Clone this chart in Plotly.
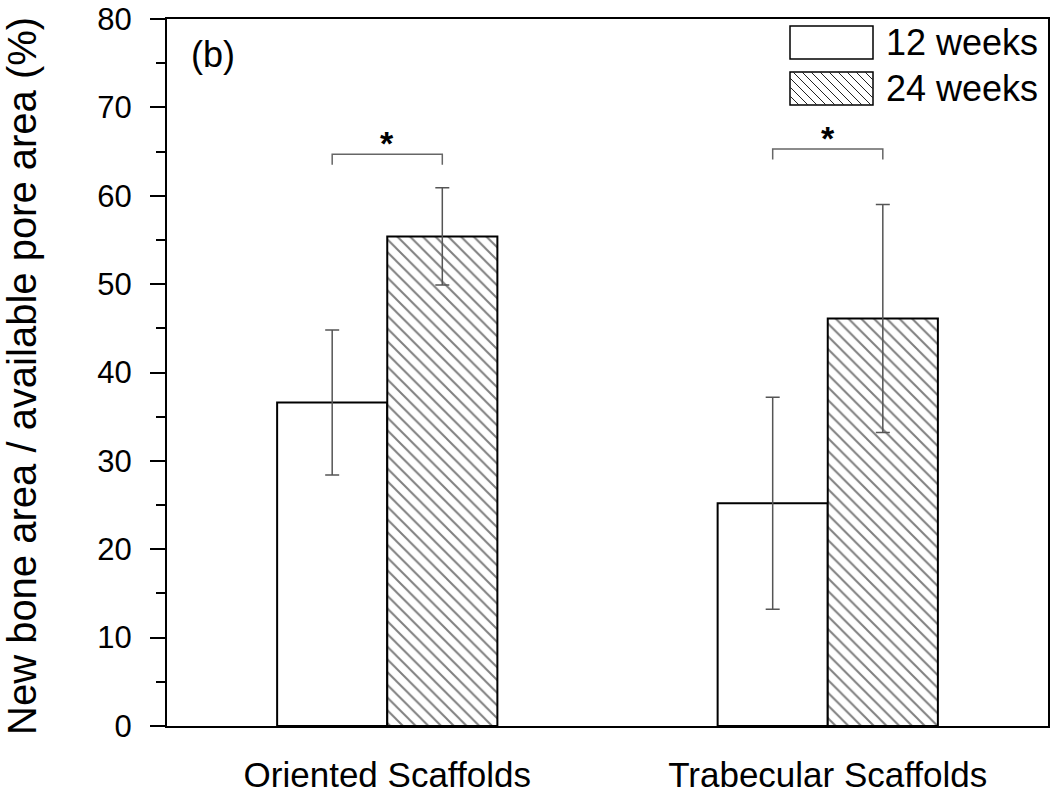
import plotly.graph_objects as go

# ---- data ----
categories = ["Oriented Scaffolds", "Trabecular Scaffolds"]
weeks12 = [36.6, 25.2]
weeks12_err = [8.2, 12.0]
weeks24 = [55.4, 46.1]
weeks24_err = [5.5, 12.9]
series_names = ["12 weeks", "24 weeks"]
sig_heights = [64.7, 65.3]
sig_drop = 1.2
sig_labels = ["*", "*"]
y_ticks = list(range(0, 81, 10))

FONT = "Arial, Liberation Sans, sans-serif"

# plot area in pixels
L, R, T, B = 167, 1048, 19, 726
W, H = 1050, 794
PW, PH = R - L, B - T


def px_to_paper(px, py):
    return (px - L) / PW, (B - py) / PH


xs = [0, 1]
fig = go.Figure()
fig.add_trace(go.Bar(
    x=xs, y=weeks12, name=series_names[0],
    marker=dict(color="white", line=dict(color="black", width=2)),
    error_y=dict(type="data", array=weeks12_err, color="#555555", thickness=1.5, width=7),
    showlegend=False,
))
fig.add_trace(go.Bar(
    x=xs, y=weeks24, name=series_names[1],
    marker=dict(color="white", line=dict(color="black", width=2),
                pattern=dict(shape="\\", size=9, solidity=0.22, fgcolor="black", bgcolor="white")),
    error_y=dict(type="data", array=weeks24_err, color="#555555", thickness=1.5, width=7),
    showlegend=False,
))

shapes = []
annotations = []
# significance brackets between bar centres
for i, (h, lab) in enumerate(zip(sig_heights, sig_labels)):
    xa, xb = xs[i] - 0.125, xs[i] + 0.125
    shapes.append(dict(type="path", xref="x", yref="y",
                       path=f"M {xa},{h - sig_drop} L {xa},{h} L {xb},{h} L {xb},{h - sig_drop}",
                       line=dict(color="#666666", width=1.5)))
    annotations.append(dict(x=xs[i], y=h, xref="x", yref="y", text=f"<b>{lab}</b>",
                            showarrow=False, yanchor="bottom", font=dict(family=FONT, size=34, color="black"),
                            yshift=-10))

# custom legend
sw_x0, sw_x1 = 790, 873
sw_rows = [(26, 59), (72, 105)]
for k, (y0, y1) in enumerate(sw_rows):
    ax0, ay0 = px_to_paper(sw_x0, y1)
    ax1, ay1 = px_to_paper(sw_x1, y0)
    shapes.append(dict(type="rect", xref="paper", yref="paper", x0=ax0, y0=ay0, x1=ax1, y1=ay1,
                       line=dict(color="black", width=1.5), fillcolor="white", layer="above"))
    if k == 1:
        segs = []
        s = 9
        c = sw_x0 - y1
        while c <= sw_x1 - y0:
            xa = max(sw_x0, c + y0)
            xb = min(sw_x1, c + y1)
            if xb > xa:
                p0 = px_to_paper(xa, xa - c)
                p1 = px_to_paper(xb, xb - c)
                segs.append(f"M {p0[0]:.5f},{p0[1]:.5f} L {p1[0]:.5f},{p1[1]:.5f}")
            c += s
        shapes.append(dict(type="path", xref="paper", yref="paper", path=" ".join(segs),
                           line=dict(color="#222222", width=1), layer="above"))
    tx, ty = px_to_paper(884, (y0 + y1) / 2)
    annotations.append(dict(x=tx, y=ty, xref="paper", yref="paper", text=series_names[k],
                            showarrow=False, xanchor="left", yanchor="middle",
                            font=dict(family=FONT, size=36, color="black")))

# panel label
bx, by = px_to_paper(189, 54)
annotations.append(dict(x=bx, y=by, xref="paper", yref="paper", text="(b)", showarrow=False,
                        xanchor="left", yanchor="middle", font=dict(family=FONT, size=36, color="black")))

# y-axis title
tx, ty = px_to_paper(22, 376)
annotations.append(dict(x=tx, y=ty, xref="paper", yref="paper",
                        text="New bone area / available pore area (%)", textangle=-90,
                        showarrow=False, xanchor="center", yanchor="middle",
                        font=dict(family=FONT, size=40, color="black")))

fig.update_layout(
    width=W, height=H,
    margin=dict(l=L, r=W - R, t=T, b=H - B, pad=0, autoexpand=False),
    plot_bgcolor="white", paper_bgcolor="white",
    barmode="group", bargap=0.5, bargroupgap=0,
    shapes=shapes, annotations=annotations,
    font=dict(family=FONT, color="black"),
)
fig.update_xaxes(range=[-0.5, 1.5], tickvals=xs, ticktext=categories, ticks="",
                 showline=True, linewidth=2, linecolor="black", mirror=True, automargin=False,
                 showgrid=False, zeroline=False, tickfont=dict(family=FONT, size=35, color="black"),
                 ticklabelstandoff=17, ticklabeloverflow="allow")
fig.update_yaxes(range=[0, 80], tickvals=y_ticks, ticks="outside", ticklen=15, tickwidth=2,
                 tickcolor="black", showline=True, linewidth=2, linecolor="black", mirror=True,
                 automargin=False, ticklabeloverflow="allow",
                 showgrid=False, zeroline=False, tickfont=dict(family=FONT, size=31, color="black"),
                 ticklabelstandoff=12,
                 minor=dict(dtick=5, tick0=0, ticks="outside", ticklen=9, tickwidth=2,
                            tickcolor="black", showgrid=False))

fig.write_html("out.html", config={"displayModeBar": False},
               post_script="document.body.style.margin='0px';document.body.style.overflow='hidden';")
